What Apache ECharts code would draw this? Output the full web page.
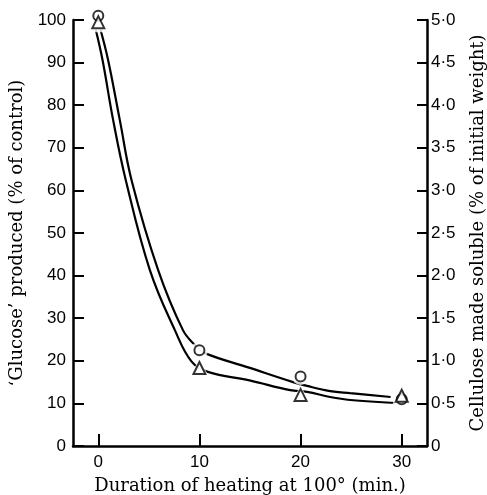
<!DOCTYPE html>
<html>
<head>
<meta charset="utf-8">
<script src="https://cdn.jsdelivr.net/npm/echarts@6/dist/echarts.min.js"></script>
<style>
  html, body { margin: 0; padding: 0; background: #fff; }
  #chart { width: 487px; height: 495px; }
</style>
</head>
<body>
<div id="chart"></div>
<script>
// heating time (min.) and measured points
const xTicks = [0, 10, 20, 30]
const circleX = [0, 10, 20, 30]
const circleY = [101, 22.5, 16.3, 11]
const triangleX = [0, 10, 20, 30]
const triangleY = [99.5, 18.3, 12, 11.8]

// hand-drawn curves
const upperCurveX = [0.22, 0.97, 2.13, 3.29, 5.92, 8.37, 9.55, 10.54, 14.9, 19.26, 20.64, 22.92, 24.9, 28.9]
const upperCurveY = [97.7, 90.6, 76.5, 62.4, 41.3, 27.2, 23.7, 21.8, 18.4, 15.0, 14.1, 12.9, 12.4, 11.5]
const lowerCurveX = [-0.25, 0.42, 1.47, 2.72, 5.1, 7.57, 9.23, 10.84, 14.95, 18.96, 20.64, 22.92, 24.9, 29.36]
const lowerCurveY = [97.7, 90.6, 76.5, 62.4, 41.3, 27.2, 19.8, 17.4, 15.4, 13.1, 12.7, 11.5, 10.8, 10.1]

const zip = (xs, ys) => xs.map((x, i) => [x, ys[i]])

const chart = echarts.init(document.getElementById('chart'))

const tickFont = { fontFamily: 'Liberation Sans', fontSize: 17, color: '#000' }
const nameFont = { fontFamily: 'DejaVu Serif', fontSize: 18, color: '#000' }
const axisLine = { show: true, onZero: false, lineStyle: { color: '#000', width: 2.5 } }

const option = {
  backgroundColor: '#fff',
  animation: false,
  grid: { left: 73, right: 60, top: 20, bottom: 49, outerBoundsMode: 'none' },
  xAxis: {
    type: 'value',
    min: -2.5,
    max: 32.5,
    name: 'Duration of heating at 100° (min.)',
    nameLocation: 'middle',
    nameGap: 31,
    nameTextStyle: nameFont,
    axisLine: axisLine,
    axisTick: { show: true, inside: true, length: 12, customValues: xTicks, lineStyle: { color: '#000', width: 2 } },
    axisLabel: Object.assign({ margin: 8, customValues: xTicks }, tickFont),
    splitLine: { show: false }
  },
  yAxis: [
    {
      type: 'value',
      position: 'left',
      min: 0,
      max: 100,
      interval: 10,
      name: '‘Glucose’ produced (% of control)',
      nameLocation: 'middle',
      nameRotate: 90,
      nameGap: 39,
      nameTextStyle: nameFont,
      axisLine: axisLine,
      axisTick: { show: true, inside: true, length: 11, lineStyle: { color: '#000', width: 2 } },
      axisLabel: Object.assign({ margin: 7 }, tickFont),
      splitLine: { show: false }
    },
    {
      type: 'value',
      position: 'right',
      min: 0,
      max: 5,
      interval: 0.5,
      name: 'Cellulose made soluble (% of initial weight)',
      nameLocation: 'middle',
      nameRotate: 90,
      nameGap: 42,
      nameTextStyle: nameFont,
      axisLine: axisLine,
      axisTick: { show: true, inside: true, length: 10, lineStyle: { color: '#000', width: 2 } },
      axisLabel: Object.assign({
        margin: 4,
        formatter: v => (v === 0 ? '0' : v.toFixed(1).replace('.', '·'))
      }, tickFont),
      splitLine: { show: false }
    }
  ],
  series: [
    {
      type: 'line',
      data: zip(upperCurveX, upperCurveY),
      smooth: 0.4,
      symbol: 'none',
      clip: false,
      z: 2,
      lineStyle: { color: '#000', width: 2.2 }
    },
    {
      type: 'line',
      data: zip(lowerCurveX, lowerCurveY),
      smooth: 0.4,
      symbol: 'none',
      clip: false,
      z: 2,
      lineStyle: { color: '#000', width: 2.2 }
    },
    // white halo round the markers so the curves break there
    {
      type: 'scatter',
      data: zip(circleX, circleY),
      symbol: 'circle',
      symbolSize: 17,
      clip: false,
      z: 3,
      itemStyle: { color: '#fff' }
    },
    {
      type: 'scatter',
      data: zip(triangleX, triangleY),
      symbol: 'triangle',
      symbolSize: 20,
      clip: false,
      z: 3,
      itemStyle: { color: '#fff' }
    },
    {
      type: 'scatter',
      data: zip(circleX, circleY),
      symbol: 'circle',
      symbolSize: 10,
      clip: false,
      z: 4,
      itemStyle: { color: '#fff', borderColor: '#000', borderWidth: 2 }
    },
    {
      type: 'scatter',
      data: zip(triangleX, triangleY),
      symbol: 'triangle',
      symbolSize: 12,
      clip: false,
      z: 4,
      itemStyle: { color: '#fff', borderColor: '#000', borderWidth: 2 }
    }
  ]
}

chart.setOption(option)
window.addEventListener('resize', () => {
  chart.resize()
})
</script>
</body>
</html>
